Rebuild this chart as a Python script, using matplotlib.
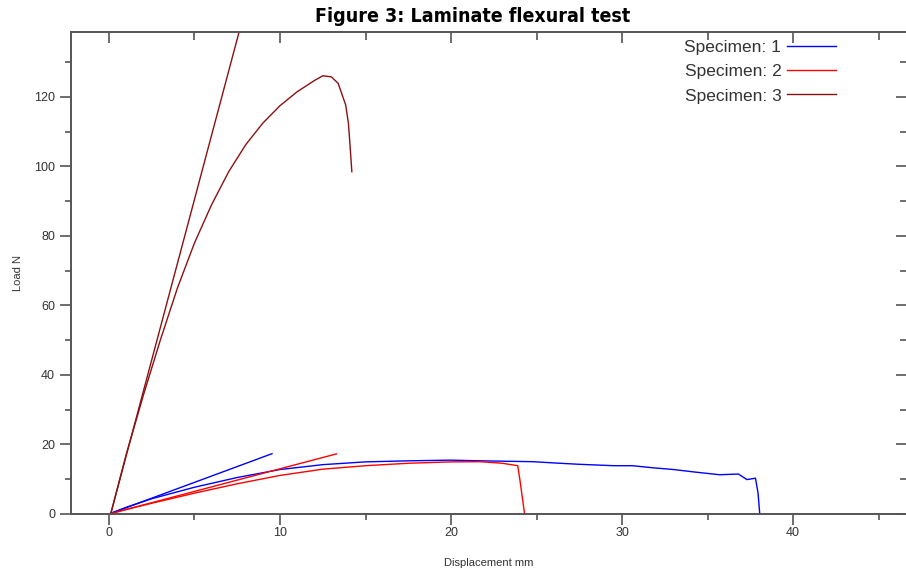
import matplotlib
matplotlib.use('Agg')
import matplotlib.pyplot as plt
from matplotlib.ticker import MultipleLocator

# specimen 1 (blue)
s1_x = [0, 1, 2.5, 5, 7.5, 10, 12.5, 15, 17.5, 20, 21.7, 23, 24.8, 26, 27.5, 29.5, 30.6, 31.8, 33, 34.2, 35.7, 36.8, 37.3, 37.8, 37.95, 38.05]
s1_y = [0, 1.9, 4.4, 7.7, 10.5, 12.8, 14.2, 15.0, 15.3, 15.5, 15.3, 15.2, 15.05, 14.7, 14.3, 13.9, 13.9, 13.3, 12.8, 12.1, 11.3, 11.5, 9.9, 10.3, 6.0, 0]
s1_tan_x = [0, 9.53]
s1_tan_y = [0, 17.35]
s1_tail_x = [40.6, 41.3]
s1_tail_y = [0, 0]

# specimen 2 (red)
s2_x = [0, 1, 2.5, 5, 7.5, 10, 12.5, 15, 17.5, 20, 21.7, 23.0, 23.9, 24.05, 24.3]
s2_y = [0, 1.3, 3.1, 6.0, 8.7, 11.1, 12.9, 13.9, 14.6, 15.0, 15.05, 14.6, 13.9, 9.0, 0]
s2_tan_x = [0, 13.3]
s2_tan_y = [0, 17.3]
s2_tail_x = [24.3, 26.4]
s2_tail_y = [0, 0]

# specimen 3 (dark red)
s3_x = [0.1, 1, 2, 3, 4, 5, 6, 7, 8, 9, 10, 11, 12, 12.5, 13.0, 13.4, 13.84, 14.0, 14.1, 14.2]
s3_y = [0, 17, 34, 50, 65, 78, 89, 98.5, 106.3, 112.5, 117.5, 121.5, 124.7, 126.1, 125.8, 123.9, 117.7, 112.4, 105.7, 98.5]
s3_tan_x = [0.1, 7.65]
s3_tan_y = [0, 139.5]

c1, c2, c3 = '#0000ff', '#ff0000', '#8b1010'

fig = plt.figure(figsize=(9.06, 5.69), dpi=100)
ax = fig.add_axes([71/906, 55/569, 835/906, 482/569])

ax.plot(s1_x, s1_y, color=c1, lw=1, label='Specimen: 1')
ax.plot(s2_x, s2_y, color=c2, lw=1, label='Specimen: 2')
ax.plot(s3_x, s3_y, color=c3, lw=1, label='Specimen: 3')
ax.plot(s1_tan_x, s1_tan_y, color=c1, lw=1)
ax.plot(s1_tail_x, s1_tail_y, color=c1, lw=1, alpha=0.5)
ax.plot(s2_tan_x, s2_tan_y, color=c2, lw=1)
ax.plot(s2_tail_x, s2_tail_y, color=c2, lw=1, alpha=0.5)
ax.plot(s3_tan_x, s3_tan_y, color=c3, lw=1)

xlim = (-2.22, 46.6)
ylim = (0, 138.7)
ax.set_xlim(*xlim)
ax.set_ylim(*ylim)

sc = '#555555'
ax.xaxis.set_major_locator(MultipleLocator(10))
ax.xaxis.set_minor_locator(MultipleLocator(5))
ax.yaxis.set_major_locator(MultipleLocator(20))
ax.yaxis.set_minor_locator(MultipleLocator(10))

for s in ['left', 'bottom', 'top']:
    ax.spines[s].set_color(sc)
    ax.spines[s].set_linewidth(1.4)
ax.spines['right'].set_visible(False)

ax.tick_params(axis='both', which='both', colors=sc, labelcolor='#333333', labelsize=9, width=1.2, direction='out')
ax.tick_params(which='major', length=8)
ax.tick_params(which='minor', length=4)
ax.tick_params(axis='x', which='major', pad=1)

# inward ticks on top and right
axt = ax.twiny()
axt.set_xlim(*xlim)
axt.xaxis.set_major_locator(MultipleLocator(10))
axt.xaxis.set_minor_locator(MultipleLocator(5))
axt.tick_params(axis='x', which='both', direction='in', colors=sc, width=1.2, labeltop=False)
axt.tick_params(axis='x', which='major', length=8)
axt.tick_params(axis='x', which='minor', length=6)
axr = ax.twinx()
axr.set_ylim(*ylim)
axr.yaxis.set_major_locator(MultipleLocator(20))
axr.yaxis.set_minor_locator(MultipleLocator(10))
axr.tick_params(axis='y', which='both', direction='in', colors=sc, width=1.2, labelright=False)
axr.tick_params(axis='y', which='major', length=7)
axr.tick_params(axis='y', which='minor', length=4)
for a in [axt, axr]:
    for s in a.spines.values():
        s.set_visible(False)

ax.set_xlabel('Displacement mm', fontsize=8, color='#333333', family='Liberation Sans', labelpad=14)
ax.set_ylabel('Load N', fontsize=8, color='#333333', family='Liberation Sans', labelpad=8)
for lab in ax.get_xticklabels() + ax.get_yticklabels():
    lab.set_family('Liberation Sans')

fig.suptitle('Figure 3: Laminate flexural test', x=473/906, y=1 - 7/569, va='top',
             fontsize=14, fontweight='bold', fontstretch='condensed', family='DejaVu Sans')

leg = ax.legend(loc='upper right', bbox_to_anchor=(836/906, 1 - 40/569),
                bbox_transform=fig.transFigure, frameon=False, markerfirst=False,
                borderpad=0, borderaxespad=0, labelspacing=0.52,
                handlelength=2.8, handletextpad=0.35, prop={'family': 'Liberation Sans', 'size': 12.5})
for txt in leg.get_texts():
    txt.set_color('#333333')

fig.savefig('out.png', dpi=100)
